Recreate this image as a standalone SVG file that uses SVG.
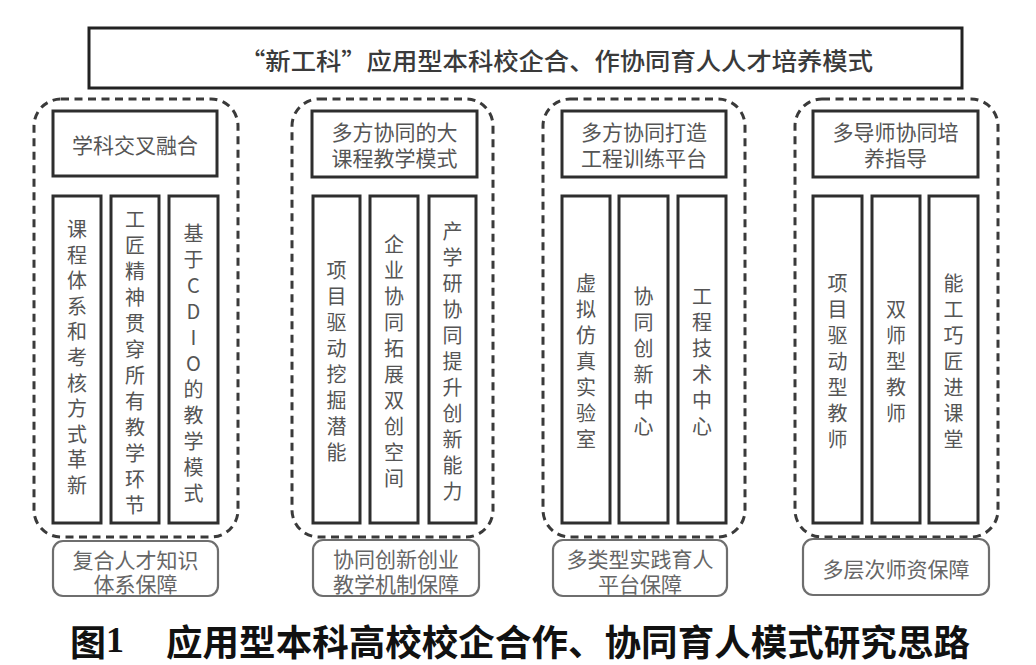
<svg xmlns="http://www.w3.org/2000/svg" width="1036" height="665" viewBox="0 0 1036 665">
<style>
.bg{fill:#fff}
.title-box{fill:none;stroke:#222;stroke-width:3}
.group{fill:none;stroke:#3a3a3a;stroke-width:3;stroke-dasharray:8 5.5}
.box{fill:#fff;stroke:#2e2e2e;stroke-width:3}
.foot{fill:#fff;stroke:#6e6e6e;stroke-width:2.2}
.t{font-family:"Noto Sans CJK SC","Noto Sans",sans-serif;font-size:21px;fill:#555;dominant-baseline:central;text-anchor:middle}
.v{font-family:"Noto Sans CJK SC","Noto Sans",sans-serif;font-size:20px;fill:#555;dominant-baseline:central;text-anchor:middle}
.ft{font-family:"Noto Sans CJK SC","Noto Sans",sans-serif;font-size:21px;fill:#666;dominant-baseline:central;text-anchor:middle}
.ttl{font-family:"Noto Sans CJK SC","Noto Sans",sans-serif;font-size:24px;font-weight:500;fill:#3a3a3a;dominant-baseline:central}
.cap{font-family:"Noto Sans CJK SC","Noto Sans",sans-serif;font-size:36px;font-weight:700;fill:#111;dominant-baseline:central}
</style>
<rect class="bg" x="0" y="0" width="1036" height="665"/>

<g id="title">
<rect class="title-box" x="89" y="28" width="873" height="60"/>
<text class="ttl" x="240" y="59" textLength="633" lengthAdjust="spacingAndGlyphs">“新工科”应用型本科校企合、作协同育人人才培养模式</text>
</g>

<g id="col1">
<rect class="group" x="34" y="99" width="204" height="438" rx="27" ry="27"/>
<g id="c1-head"><rect class="box" x="53" y="111" width="164" height="65"/><text class="t" x="135" y="144">学科交叉融合</text></g>
<g id="c1-b1"><rect class="box" x="53" y="196" width="48" height="327"/>
<text class="v"><tspan x="77" y="228">课</tspan><tspan x="77" y="253.6">程</tspan><tspan x="77" y="279.2">体</tspan><tspan x="77" y="304.8">系</tspan><tspan x="77" y="330.4">和</tspan><tspan x="77" y="356">考</tspan><tspan x="77" y="381.6">核</tspan><tspan x="77" y="407.2">方</tspan><tspan x="77" y="432.8">式</tspan><tspan x="77" y="458.4">革</tspan><tspan x="77" y="484">新</tspan></text></g>
<g id="c1-b2"><rect class="box" x="111" y="196" width="48" height="327"/>
<text class="v"><tspan x="135" y="218">工</tspan><tspan x="135" y="244">匠</tspan><tspan x="135" y="270">精</tspan><tspan x="135" y="296">神</tspan><tspan x="135" y="322">贯</tspan><tspan x="135" y="348">穿</tspan><tspan x="135" y="374">所</tspan><tspan x="135" y="400">有</tspan><tspan x="135" y="426">教</tspan><tspan x="135" y="452">学</tspan><tspan x="135" y="478">环</tspan><tspan x="135" y="504">节</tspan></text></g>
<g id="c1-b3"><rect class="box" x="169" y="196" width="49" height="327"/>
<text class="v"><tspan x="193.5" y="232">基</tspan><tspan x="193.5" y="258">于</tspan><tspan x="193.5" y="284">C</tspan><tspan x="193.5" y="310">D</tspan><tspan x="193.5" y="336">I</tspan><tspan x="193.5" y="362">O</tspan><tspan x="193.5" y="388">的</tspan><tspan x="193.5" y="414">教</tspan><tspan x="193.5" y="440">学</tspan><tspan x="193.5" y="466">模</tspan><tspan x="193.5" y="492">式</tspan></text></g>
<g id="c1-foot"><rect class="foot" x="53" y="541" width="165" height="55" rx="10" ry="10"/>
<text class="ft"><tspan x="135.5" y="559">复合人才知识</tspan><tspan x="135.5" y="583">体系保障</tspan></text></g>
</g>

<g id="col2">
<rect class="group" x="292" y="99" width="201" height="438" rx="27" ry="27"/>
<g id="c2-head"><rect class="box" x="312" y="111" width="165" height="66"/><text class="t"><tspan x="394.5" y="131">多方协同的大</tspan><tspan x="394.5" y="157">课程教学模式</tspan></text></g>
<g id="c2-b1"><rect class="box" x="313" y="196" width="47" height="327"/>
<text class="v"><tspan x="336.5" y="269">项</tspan><tspan x="336.5" y="295">目</tspan><tspan x="336.5" y="321">驱</tspan><tspan x="336.5" y="347">动</tspan><tspan x="336.5" y="373">挖</tspan><tspan x="336.5" y="399">掘</tspan><tspan x="336.5" y="425">潜</tspan><tspan x="336.5" y="451">能</tspan></text></g>
<g id="c2-b2"><rect class="box" x="370" y="196" width="48" height="327"/>
<text class="v"><tspan x="394" y="243">企</tspan><tspan x="394" y="269">业</tspan><tspan x="394" y="295">协</tspan><tspan x="394" y="321">同</tspan><tspan x="394" y="347">拓</tspan><tspan x="394" y="373">展</tspan><tspan x="394" y="399">双</tspan><tspan x="394" y="425">创</tspan><tspan x="394" y="451">空</tspan><tspan x="394" y="477">间</tspan></text></g>
<g id="c2-b3"><rect class="box" x="429" y="196" width="47" height="327"/>
<text class="v"><tspan x="452.5" y="230">产</tspan><tspan x="452.5" y="256">学</tspan><tspan x="452.5" y="282">研</tspan><tspan x="452.5" y="308">协</tspan><tspan x="452.5" y="334">同</tspan><tspan x="452.5" y="360">提</tspan><tspan x="452.5" y="386">升</tspan><tspan x="452.5" y="412">创</tspan><tspan x="452.5" y="438">新</tspan><tspan x="452.5" y="464">能</tspan><tspan x="452.5" y="490">力</tspan></text></g>
<g id="c2-foot"><rect class="foot" x="313" y="540" width="166" height="56" rx="10" ry="10"/>
<text class="ft"><tspan x="396" y="558">协同创新创业</tspan><tspan x="396" y="583">教学机制保障</tspan></text></g>
</g>

<g id="col3">
<rect class="group" x="543" y="99" width="202" height="438" rx="27" ry="27"/>
<g id="c3-head"><rect class="box" x="562" y="111" width="164" height="66"/><text class="t"><tspan x="644" y="131">多方协同打造</tspan><tspan x="644" y="157">工程训练平台</tspan></text></g>
<g id="c3-b1"><rect class="box" x="562" y="196" width="48" height="327"/>
<text class="v"><tspan x="586" y="282">虚</tspan><tspan x="586" y="308">拟</tspan><tspan x="586" y="334">仿</tspan><tspan x="586" y="360">真</tspan><tspan x="586" y="386">实</tspan><tspan x="586" y="412">验</tspan><tspan x="586" y="438">室</tspan></text></g>
<g id="c3-b2"><rect class="box" x="619" y="196" width="49" height="327"/>
<text class="v"><tspan x="643.5" y="295">协</tspan><tspan x="643.5" y="321">同</tspan><tspan x="643.5" y="347">创</tspan><tspan x="643.5" y="373">新</tspan><tspan x="643.5" y="399">中</tspan><tspan x="643.5" y="425">心</tspan></text></g>
<g id="c3-b3"><rect class="box" x="678" y="196" width="48" height="327"/>
<text class="v"><tspan x="702" y="295">工</tspan><tspan x="702" y="321">程</tspan><tspan x="702" y="347">技</tspan><tspan x="702" y="373">术</tspan><tspan x="702" y="399">中</tspan><tspan x="702" y="425">心</tspan></text></g>
<g id="c3-foot"><rect class="foot" x="553" y="540" width="174" height="56" rx="10" ry="10"/>
<text class="ft"><tspan x="640" y="558">多类型实践育人</tspan><tspan x="640" y="583">平台保障</tspan></text></g>
</g>

<g id="col4">
<rect class="group" x="795" y="99" width="203" height="438" rx="27" ry="27"/>
<g id="c4-head"><rect class="box" x="813" y="111" width="165" height="66"/><text class="t"><tspan x="895.5" y="131">多导师协同培</tspan><tspan x="895.5" y="157">养指导</tspan></text></g>
<g id="c4-b1"><rect class="box" x="813" y="196" width="49" height="327"/>
<text class="v"><tspan x="837.5" y="282">项</tspan><tspan x="837.5" y="308">目</tspan><tspan x="837.5" y="334">驱</tspan><tspan x="837.5" y="360">动</tspan><tspan x="837.5" y="386">型</tspan><tspan x="837.5" y="412">教</tspan><tspan x="837.5" y="438">师</tspan></text></g>
<g id="c4-b2"><rect class="box" x="872" y="196" width="48" height="327"/>
<text class="v"><tspan x="896" y="308">双</tspan><tspan x="896" y="334">师</tspan><tspan x="896" y="360">型</tspan><tspan x="896" y="386">教</tspan><tspan x="896" y="412">师</tspan></text></g>
<g id="c4-b3"><rect class="box" x="929" y="196" width="49" height="327"/>
<text class="v"><tspan x="953.5" y="282">能</tspan><tspan x="953.5" y="308">工</tspan><tspan x="953.5" y="334">巧</tspan><tspan x="953.5" y="360">匠</tspan><tspan x="953.5" y="386">进</tspan><tspan x="953.5" y="412">课</tspan><tspan x="953.5" y="438">堂</tspan></text></g>
<g id="c4-foot"><rect class="foot" x="803" y="539" width="186" height="56" rx="10" ry="10"/>
<text class="ft" x="896" y="568">多层次师资保障</text></g>
</g>

<g id="connectors"></g>

<g id="caption">
<text class="cap" x="70" y="640">图<tspan font-family="Liberation Serif" font-weight="700">1</tspan></text>
<text class="cap" x="166" y="640" textLength="804" lengthAdjust="spacingAndGlyphs">应用型本科高校校企合作、协同育人模式研究思路</text>
</g>
</svg>
